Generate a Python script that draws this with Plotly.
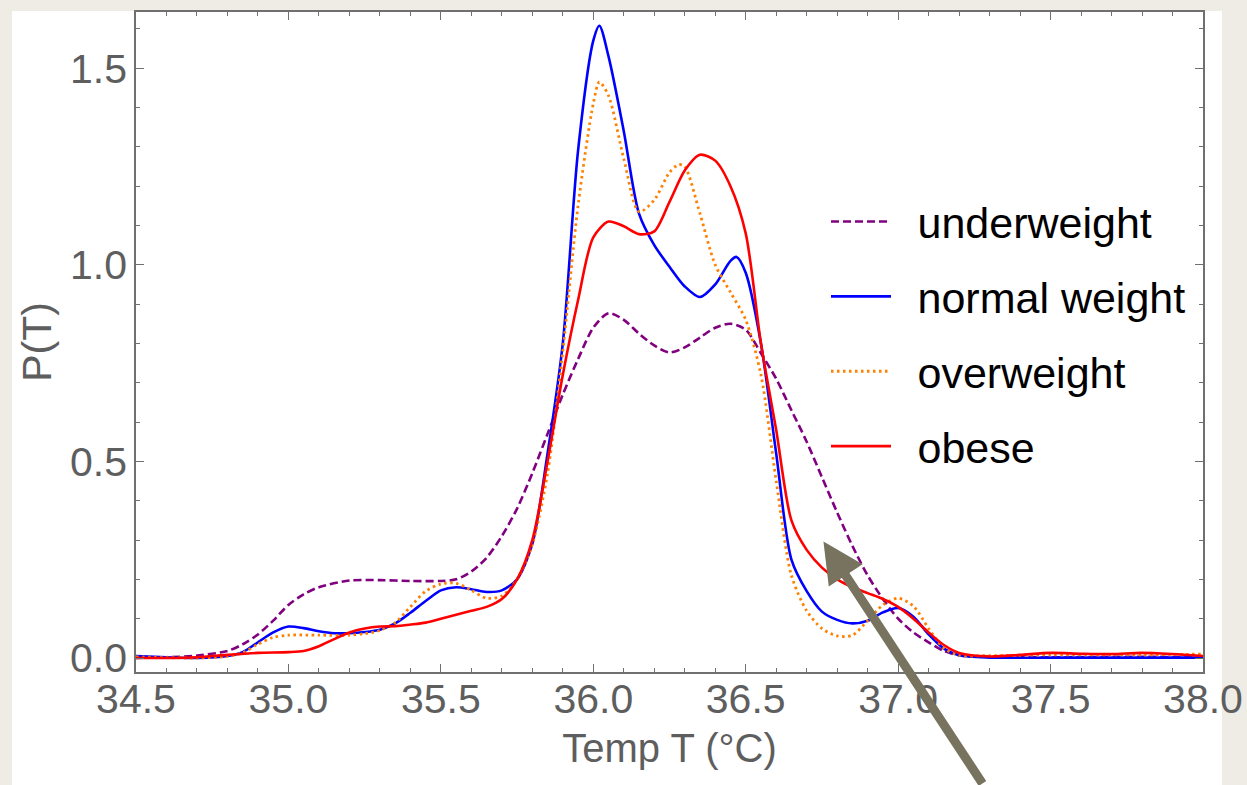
import plotly.graph_objects as go

# ---------------- data ----------------
under_T = [34.5, 34.6, 34.7, 34.8, 34.85, 34.9, 34.95, 35.0, 35.05, 35.1, 35.2, 35.3, 35.4, 35.5,
           35.55, 35.6, 35.65, 35.7, 35.75, 35.8, 35.85, 35.9, 35.95, 36.0, 36.05, 36.1, 36.15,
           36.2, 36.25, 36.3, 36.35, 36.4, 36.45, 36.5, 36.55, 36.6, 36.65, 36.7, 36.75, 36.8,
           36.85, 36.9, 36.95, 37.0, 37.05, 37.1, 37.15, 37.2, 37.3, 37.5, 37.8, 38.0]
under_P = [0.0, 0.002, 0.006, 0.018, 0.035, 0.06, 0.095, 0.135, 0.162, 0.18, 0.197, 0.198, 0.196,
           0.196, 0.20, 0.22, 0.255, 0.31, 0.38, 0.47, 0.57, 0.67, 0.76, 0.84, 0.877, 0.86, 0.825,
           0.795, 0.777, 0.79, 0.815, 0.84, 0.85, 0.835, 0.775, 0.71, 0.63, 0.55, 0.46, 0.37,
           0.285, 0.21, 0.15, 0.10, 0.065, 0.04, 0.018, 0.007, 0.003, 0.002, 0.003, 0.002]

normal_T = [34.5, 34.6, 34.7, 34.8, 34.85, 34.9, 34.95, 35.0, 35.05, 35.1, 35.15, 35.2, 35.25, 35.3,
            35.35, 35.4, 35.45, 35.5, 35.55, 35.6, 35.65, 35.7, 35.75, 35.8, 35.85, 35.9, 35.95,
            36.0, 36.02, 36.05, 36.1, 36.15, 36.2, 36.25, 36.3, 36.35, 36.4, 36.45, 36.47, 36.5,
            36.55, 36.6, 36.65, 36.7, 36.75, 36.8, 36.85, 36.9, 36.95, 37.0, 37.05, 37.1, 37.15,
            37.2, 37.3, 37.5, 37.8, 38.0]
normal_P = [0.005, 0.002, 0.0, 0.005, 0.015, 0.04, 0.065, 0.08, 0.076, 0.068, 0.063, 0.063, 0.066,
            0.072, 0.088, 0.115, 0.145, 0.172, 0.18, 0.175, 0.168, 0.172, 0.2, 0.29, 0.52, 0.80,
            1.29, 1.57, 1.608, 1.53, 1.34, 1.13, 1.05, 0.995, 0.945, 0.918, 0.95, 1.01, 1.02,
            0.98, 0.80, 0.52, 0.25, 0.17, 0.118, 0.097, 0.088, 0.095, 0.116, 0.127, 0.105, 0.06,
            0.024, 0.007, 0.001, 0.001, 0.001, 0.001]

over_T = [34.5, 34.6, 34.7, 34.8, 34.85, 34.9, 34.95, 35.0, 35.1, 35.2, 35.25, 35.3, 35.35, 35.4,
          35.45, 35.5, 35.55, 35.6, 35.65, 35.7, 35.75, 35.8, 35.85, 35.9, 35.95, 36.0, 36.02,
          36.05, 36.1, 36.15, 36.2, 36.25, 36.28, 36.3, 36.35, 36.4, 36.45, 36.5, 36.55, 36.6,
          36.65, 36.7, 36.75, 36.8, 36.85, 36.9, 36.95, 37.0, 37.05, 37.1, 37.15, 37.2, 37.3,
          37.5, 37.8, 38.0]
over_P = [0.003, 0.001, 0.0, 0.004, 0.013, 0.035, 0.052, 0.058, 0.058, 0.058, 0.062, 0.07, 0.09,
          0.13, 0.17, 0.188, 0.19, 0.172, 0.152, 0.158, 0.2, 0.29, 0.47, 0.78, 1.15, 1.41, 1.465,
          1.43, 1.27, 1.135, 1.165, 1.235, 1.255, 1.25, 1.13, 1.0, 0.93, 0.86, 0.72, 0.45, 0.21,
          0.12, 0.075, 0.056, 0.058, 0.095, 0.135, 0.152, 0.132, 0.075, 0.025, 0.007, 0.006,
          0.008, 0.008, 0.01]

obese_T = [34.5, 34.6, 34.7, 34.8, 34.9, 35.0, 35.05, 35.1, 35.15, 35.2, 35.25, 35.3, 35.35, 35.4,
           35.45, 35.5, 35.55, 35.6, 35.65, 35.7, 35.75, 35.8, 35.85, 35.9, 35.95, 36.0, 36.05,
           36.1, 36.15, 36.2, 36.25, 36.3, 36.35, 36.4, 36.45, 36.5, 36.55, 36.6, 36.65, 36.7,
           36.75, 36.8, 36.85, 36.9, 36.95, 37.0, 37.05, 37.1, 37.15, 37.2, 37.3, 37.4, 37.5,
           37.6, 37.7, 37.8, 37.9, 38.0]
obese_P = [0.0, 0.0, 0.002, 0.008, 0.013, 0.015, 0.018, 0.03, 0.048, 0.065, 0.075, 0.08, 0.081,
           0.085, 0.09, 0.1, 0.11, 0.12, 0.13, 0.15, 0.2, 0.3, 0.5, 0.72, 0.91, 1.07, 1.11, 1.098,
           1.078, 1.085, 1.16, 1.24, 1.28, 1.265, 1.2, 1.08, 0.80, 0.58, 0.35, 0.275, 0.23, 0.2,
           0.18, 0.165, 0.15, 0.13, 0.1, 0.065, 0.033, 0.013, 0.004, 0.008, 0.013, 0.011, 0.01,
           0.013, 0.01, 0.005]

series_names = ["underweight", "normal weight", "overweight", "obese"]
x_ticks = [34.5, 35.0, 35.5, 36.0, 36.5, 37.0, 37.5, 38.0]
y_ticks = [0.0, 0.5, 1.0, 1.5]

# ---------------- styling ----------------
FONT = "Liberation Sans, Arial, Helvetica, sans-serif"
GRAY = "#5e5e5e"
FRAME = "#707070"
GAP = "\u2002"  # spacing between legend line sample and label

styles = [
    dict(color="#800080", width=2.6, dash="8px,4px"),
    dict(color="#0000ff", width=2.6, dash="solid"),
    dict(color="#ff8000", width=2.8, dash="2.5px,3.5px"),
    dict(color="#ff0000", width=2.6, dash="solid"),
]

fig = go.Figure()
for name, T, P, st in zip(series_names,
                          [under_T, normal_T, over_T, obese_T],
                          [under_P, normal_P, over_P, obese_P],
                          styles):
    fig.add_trace(go.Scatter(x=T, y=P, mode="lines", name=GAP + name, legendgroup=name,
                             line=dict(shape="spline", smoothing=0.8, **st),
                             hoverinfo="skip"))

L, R, TOP, B = 136, 44, 12, 113
W, H = 1247, 785
pw, ph = W - L - R, H - TOP - B

def px_x(p):
    return (p - L) / pw

def px_y(p):
    return (H - B - p) / ph

axis_common = dict(
    showgrid=False, zeroline=False, showline=True, linecolor=FRAME, linewidth=1.5,
    mirror="allticks", ticks="inside", ticklen=8, tickwidth=1.2, tickcolor=FRAME,
    tickfont=dict(family=FONT, size=41, color=GRAY), tickformat=".1f",
    automargin=False,
)

fig.update_xaxes(range=[34.5, 38.0], tickvals=x_ticks,
                 minor=dict(dtick=0.1, ticks="inside", ticklen=4, tickcolor=FRAME, tickwidth=1.1),
                 title=dict(text="Temp T (°C)", font=dict(family=FONT, size=40, color=GRAY), standoff=13),
                 ticklabelstandoff=-10,
                 **axis_common)
fig.update_yaxes(range=[-0.0356, 1.643], tickvals=y_ticks,
                 minor=dict(dtick=0.1, ticks="inside", ticklen=4, tickcolor=FRAME, tickwidth=1.1),
                 title=dict(text="P(T)", font=dict(family=FONT, size=41, color=GRAY), standoff=6),
                 ticklabelstandoff=-1,
                 **axis_common)

# white page panel behind the chart
fig.add_shape(type="rect", xref="paper", yref="paper", layer="below",
              x0=px_x(12), x1=px_x(1222), y0=px_y(786), y1=px_y(11),
              fillcolor="white", line=dict(width=0))

# pointing arrow
fig.add_annotation(x=36.755, y=0.296, xref="x", yref="y", text="", showarrow=True,
                   ax=160, ay=256, arrowhead=2, arrowsize=0.9, arrowwidth=9,
                   arrowcolor="#78735f", standoff=0)

fig.update_layout(
    width=W, height=H,
    margin=dict(l=L, r=R, t=TOP, b=B),
    paper_bgcolor="#efece6", plot_bgcolor="white",
    showlegend=True,
    legend=dict(x=px_x(826), y=px_y(187), xanchor="left", yanchor="top",
                bgcolor="rgba(0,0,0,0)", font=dict(family=FONT, size=43, color="black"),
                itemwidth=60, tracegroupgap=16, traceorder="grouped"),
)

fig.write_html("out.html")
